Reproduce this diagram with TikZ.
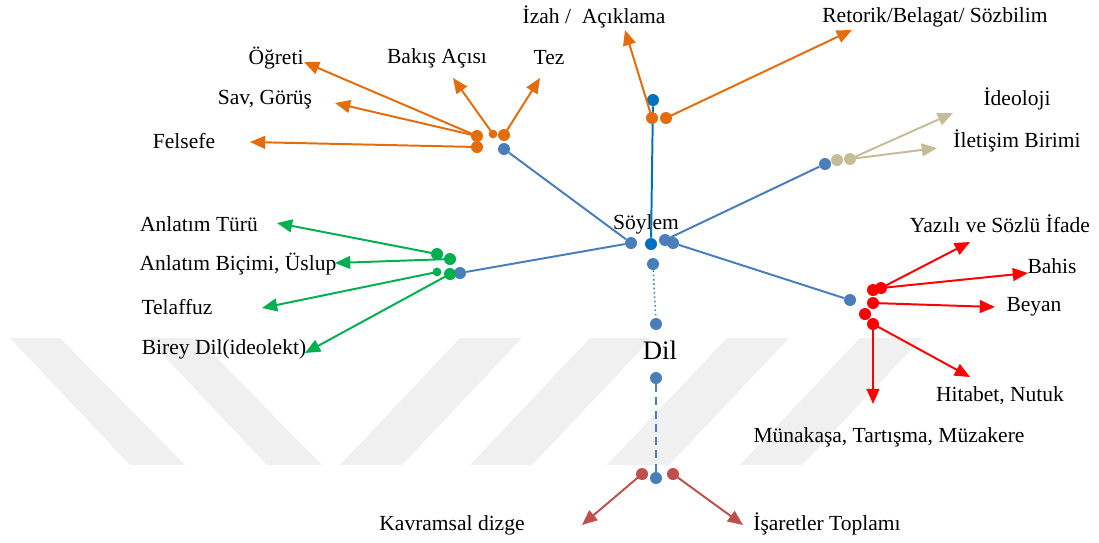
\documentclass[tikz,border=0pt]{standalone}
\usepackage{fontspec}
\setmainfont{Liberation Serif}
\usetikzlibrary{arrows.meta}

\definecolor{mavi}{HTML}{4A7EBB}
\definecolor{koyumavi}{HTML}{0070C0}
\definecolor{turuncu}{HTML}{E46C0A}
\definecolor{yesil}{HTML}{00B050}
\definecolor{kirmizi}{HTML}{FF0000}
\definecolor{bej}{HTML}{C4BD97}
\definecolor{bordo}{HTML}{C0504D}

\begin{document}
\begin{tikzpicture}[x=0.025cm,y=-0.025cm,
    nokta/.style={circle,fill=#1,inner sep=0pt,minimum size=0.3cm},
    yazi/.style={font=\fontsize{15.3}{18}\selectfont,inner sep=0pt},
    ok/.style={draw=#1,line width=1.4pt,-{Triangle[length=0.38cm,width=0.32cm]}},
    cizgi/.style={draw=#1,line width=1.4pt}]
    \useasboundingbox (0,0) rectangle (1099,542);

    % arka plan filigranı
    \foreach \a in {10,147}
        \fill[black!6] (\a,338) -- (\a+50,338) -- (\a+175,465) -- (\a+120,465) -- cycle;
    \foreach \a in {340,470,607,740}
        \fill[black!6] (\a,465) -- (\a+62,465) -- (\a+182,338) -- (\a+120,338) -- cycle;

    % yazılar
    \node[yazi] (ogreti) at (276,58) {Öğreti};
    \node[yazi] (bakis) at (437,58) {Bakış Açısı};
    \node[yazi] (tez) at (549,58) {Tez};
    \node[yazi] (sav) at (265,100) {Sav, Görüş};
    \node[yazi] (felsefe) at (184,141) {Felsefe};
    \node[yazi] (izah) at (594,17) {İzah /\ \ Açıklama};
    \node[yazi] (retorik) at (935,17) {Retorik/Belagat/ Sözbilim};
    \node[yazi] (ideoloji) at (1017,99) {İdeoloji};
    \node[yazi] (iletisim) at (1017,141) {İletişim Birimi};
    \node[yazi] (tur) at (199,224) {Anlatım Türü};
    \node[yazi] (bicim) at (238,264) {Anlatım Biçimi, Üslup};
    \node[yazi] (telaffuz) at (177,307) {Telaffuz};
    \node[yazi] (birey) at (224,349) {Birey Dil(ideolekt)};
    \node[yazi] (soylem) at (646,224) {Söylem};
    \node[yazi,font=\fontsize{19}{22}\selectfont] (dil) at (660,350) {Dil};
    \node[yazi] (yazili) at (1000,224) {Yazılı ve Sözlü İfade};
    \node[yazi] (bahis) at (1052,266) {Bahis};
    \node[yazi] (beyan) at (1034,307) {Beyan};
    \node[yazi] (hitabet) at (1000,396) {Hitabet, Nutuk};
    \node[yazi] (munakasa) at (889,437) {Münakaşa, Tartışma, Müzakere};
    \node[yazi] (kavramsal) at (452,525) {Kavramsal dizge};
    \node[yazi] (isaret) at (827,524) {İşaretler Toplamı};

    % ok uçları
    \coordinate (uOgreti) at (304,62);
    \coordinate (uSav) at (335,103);
    \coordinate (uFelsefe) at (250,142);
    \coordinate (uBakis) at (453,78);
    \coordinate (uTez) at (540,78);
    \coordinate (uIzah) at (625,30);
    \coordinate (uRetorik) at (852,30);
    \coordinate (uIdeoloji) at (953,113);
    \coordinate (uIletisim) at (937,148);
    \coordinate (uTur) at (277,223);
    \coordinate (uBicim) at (335,263);
    \coordinate (uTelaffuz) at (262,308);
    \coordinate (uBirey) at (305,353);
    \coordinate (uYazili) at (970,242);
    \coordinate (uBahis) at (1028,273);
    \coordinate (uBeyan) at (995,307);
    \coordinate (uHitabet) at (970,377);
    \coordinate (uMunakasa) at (873,404);
    \coordinate (uKavramsal) at (582,525);
    \coordinate (uIsaret) at (743,525);

    % mavi noktalar
    \node[nokta=mavi] (b1) at (504,149) {};
    \node[nokta=koyumavi] (b2) at (653,100) {};
    \node[nokta=mavi] (b3) at (825,164) {};
    \node[nokta=mavi] (b4) at (460,273) {};
    \node[nokta=mavi] (b5) at (850,300) {};
    \node[nokta=mavi] (s1) at (631,243) {};
    \node[nokta=koyumavi] (s2) at (651,244) {};
    \node[nokta=mavi] (s3) at (665,240) {};
    \node[nokta=mavi] (s4) at (673,243) {};
    \node[nokta=mavi] (d1) at (653,264) {};
    \node[nokta=mavi] (d2) at (656,324) {};
    \node[nokta=mavi] (d3) at (656,378) {};
    \node[nokta=mavi] (d4) at (656,478) {};

    % mavi çizgiler
    \draw[cizgi=mavi] (b1) -- (s1);
    \draw[cizgi=koyumavi] (b2) -- (s2);
    \draw[cizgi=mavi] (b3) -- (s3);
    \draw[cizgi=mavi] (b4) -- (s1);
    \draw[cizgi=mavi] (b5) -- (s4);
    \draw[draw=mavi,line width=1.1pt,dotted] (d1) -- (d2);
    \draw[draw=mavi,line width=1.4pt,dash pattern=on 0.2cm off 0.13cm] (d3) -- (d4);

    % turuncu
    \node[nokta=turuncu] (o1) at (477,136) {};
    \node[nokta=turuncu] (o2) at (477,147) {};
    \node[nokta=turuncu,minimum size=0.22cm] (o3) at (493,134) {};
    \node[nokta=turuncu] (o4) at (504,135) {};
    \node[nokta=turuncu] (o5) at (652,118) {};
    \node[nokta=turuncu] (o6) at (666,118) {};
    \draw[ok=turuncu] (o1.center) -- (uOgreti);
    \draw[ok=turuncu] (o1.center) -- (uSav);
    \draw[ok=turuncu] (o2.center) -- (uFelsefe);
    \draw[ok=turuncu] (o3.center) -- (uBakis);
    \draw[ok=turuncu] (o4.center) -- (uTez);
    \draw[ok=turuncu] (o5.center) -- (uIzah);
    \draw[ok=turuncu] (o6.center) -- (uRetorik);

    % bej
    \node[nokta=bej] (t1) at (837,160) {};
    \node[nokta=bej] (t2) at (850,159) {};
    \draw[ok=bej] (t2.center) -- (uIdeoloji);
    \draw[ok=bej] (t2.center) -- (uIletisim);

    % yeşil
    \node[nokta=yesil] (g1) at (437,254) {};
    \node[nokta=yesil] (g2) at (450,259) {};
    \node[nokta=yesil,minimum size=0.22cm] (g3) at (437,272) {};
    \node[nokta=yesil] (g4) at (450,274) {};
    \draw[ok=yesil] (g1.center) -- (uTur);
    \draw[ok=yesil] (g2.center) -- (uBicim);
    \draw[ok=yesil] (g3.center) -- (uTelaffuz);
    \draw[ok=yesil] (g4.center) -- (uBirey);

    % kırmızı
    \node[nokta=kirmizi] (r1) at (873,290) {};
    \node[nokta=kirmizi] (r1b) at (881,288) {};
    \node[nokta=kirmizi] (r2) at (873,303) {};
    \node[nokta=kirmizi] (r3) at (865,314) {};
    \node[nokta=kirmizi] (r4) at (873,324) {};
    \draw[ok=kirmizi] (r1b.center) -- (uYazili);
    \draw[ok=kirmizi] (r1b.center) -- (uBahis);
    \draw[ok=kirmizi] (r2.center) -- (uBeyan);
    \draw[ok=kirmizi] (r4.center) -- (uHitabet);
    \draw[ok=kirmizi] (r4.center) -- (uMunakasa);

    % bordo
    \node[nokta=bordo] (k1) at (642,474) {};
    \node[nokta=bordo] (k2) at (673,474) {};
    \draw[ok=bordo] (k1.center) -- (uKavramsal);
    \draw[ok=bordo] (k2.center) -- (uIsaret);
\end{tikzpicture}
\end{document}
